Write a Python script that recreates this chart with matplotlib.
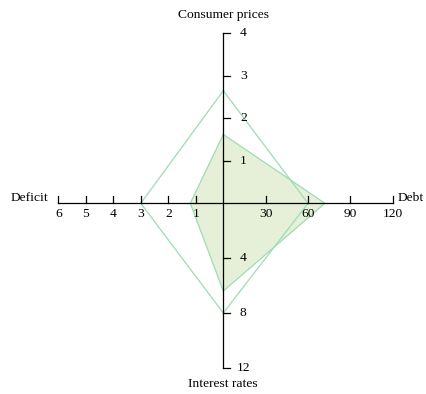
import numpy as np
import matplotlib.pyplot as plt

plt.rcParams['font.family'] = ['Liberation Serif', 'DejaVu Serif']

# four axes, clockwise from the top
names = ['Consumer prices', 'Debt', 'Interest rates', 'Deficit']
maxima = [4, 120, 12, 6]
ticks = [[1, 2, 3, 4], [30, 60, 90, 120], [4, 8, 12], [1, 2, 3, 4, 5, 6]]
outer = [2.65, 60, 8, 3]
inner = [1.62, 72, 6.4, 1.2]

angles = np.deg2rad([90, 0, 270, 180])
lengths = np.array([170.0, 169.4, 164.5, 165.0])   # axis lengths in pixels
line_col = '#9ddcb5'
fill_col = '#e6f0d9'

cx, cy = 223.3, 203.3
W, H = 427, 394

fig = plt.figure(figsize=(W / 100, H / 100), dpi=100)
ax = fig.add_axes([0, 0, 1, 1])
# data units are pixels, centre of the chart at the origin
ax.set_xlim(-cx, W - cx)
ax.set_ylim(-(H - cy), cy)
ax.axis('off')


def to_xy(vals):
    r = np.array(vals, dtype=float) / np.array(maxima, dtype=float) * lengths
    x = r * np.cos(angles)
    y = r * np.sin(angles)
    return np.append(x, x[0]), np.append(y, y[0])


# filled series first, outline series on top
xi, yi = to_xy(inner)
ax.fill(xi, yi, color=fill_col, lw=0, zorder=1)
ax.plot(xi, yi, color=line_col, lw=0.9, zorder=2)
xo, yo = to_xy(outer)
ax.plot(xo, yo, color=line_col, lw=0.9, zorder=2)

tl = 7
for name, m, tk, a, L in zip(names, maxima, ticks, angles, lengths):
    dx, dy = np.cos(a), np.sin(a)
    ax.plot([0, dx * L], [0, dy * L], color='black', lw=0.9, zorder=3)
    vertical = abs(dy) > 0.5
    for t in tk:
        px, py = dx * L * t / m, dy * L * t / m
        if vertical:
            ax.plot([px, px + tl], [py, py], color='black', lw=0.9, zorder=3)
            ax.annotate(str(t), (px, py), xytext=(20, 0), textcoords='offset pixels',
                        ha='center', va='center', fontsize=9.7)
        else:
            ax.plot([px, px], [py, py + tl], color='black', lw=0.9, zorder=3)
            ax.annotate(str(t), (px, py), xytext=(0, -11), textcoords='offset pixels',
                        ha='center', va='center', fontsize=9.7)
    # axis name at the end of each axis
    if dy > 0.5:
        off, ha = (0, 18), 'center'
    elif dy < -0.5:
        off, ha = (0, -16), 'center'
    elif dx > 0:
        off, ha = (5, 5), 'left'
    else:
        off, ha = (-10, 5), 'right'
    ax.annotate(name, (dx * L, dy * L), xytext=off, textcoords='offset pixels',
                ha=ha, va='center', fontsize=9.7)

fig.savefig('out.png', dpi=100)
